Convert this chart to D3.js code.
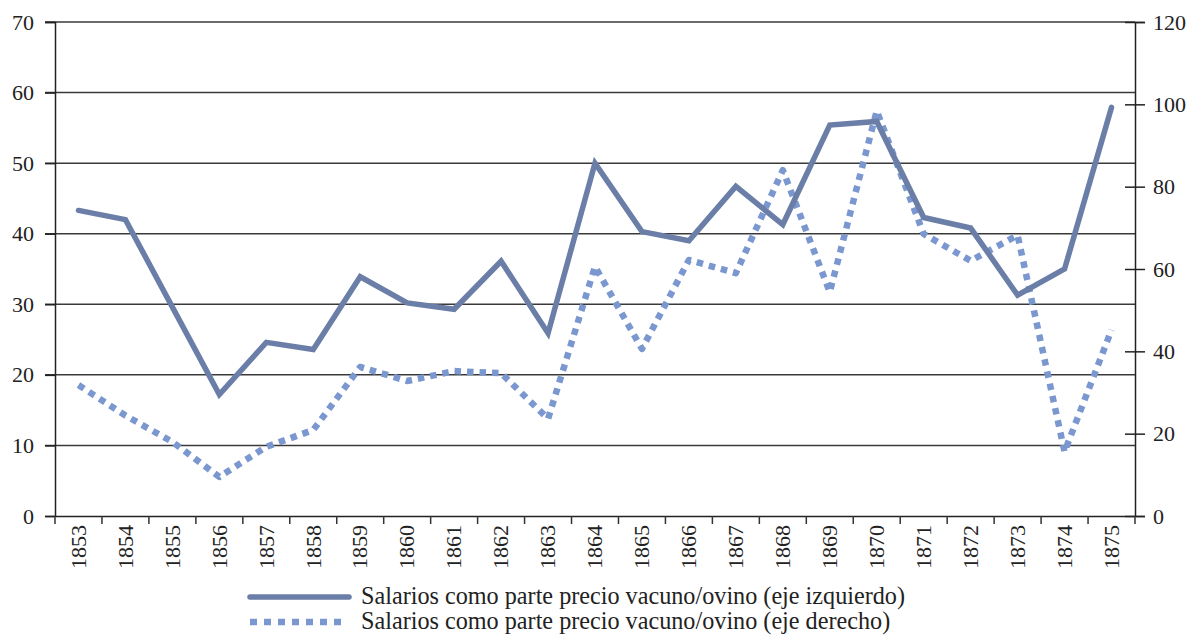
<!DOCTYPE html>
<html>
<head>
<meta charset="utf-8">
<script src="https://cdn.jsdelivr.net/npm/d3@7.9.0/dist/d3.min.js"></script>
<style>
  body { margin: 0; background: #fff; }
  svg text { font-family: "Liberation Serif", "Times New Roman", serif; fill: #222; }
</style>
</head>
<body>
<svg id="chart" width="1187" height="636"></svg>
<script>
// years on the x axis
const years = [1853, 1854, 1855, 1856, 1857, 1858, 1859, 1860, 1861, 1862, 1863, 1864,
  1865, 1866, 1867, 1868, 1869, 1870, 1871, 1872, 1873, 1874, 1875];

// salarios como parte precio vacuno/ovino (eje izquierdo)
const leftSeries = [43.3, 42.0, 29.6, 17.2, 24.6, 23.6, 33.9, 30.2, 29.3, 36.1, 25.9, 50.0,
  40.3, 39.0, 46.7, 41.3, 55.4, 55.9, 42.3, 40.8, 31.3, 35.0, 57.9];

// salarios como parte precio vacuno/ovino (eje derecho)
const rightSeries = [31.8, 24.4, 18.0, 9.5, 16.8, 20.9, 36.2, 32.8, 35.2, 34.7, 23.6, 60.6,
  40.6, 62.2, 59.0, 84.0, 54.4, 98.4, 68.5, 62.0, 68.2, 15.6, 45.2];

const leftTicks = [0, 10, 20, 30, 40, 50, 60, 70];
const rightTicks = [0, 20, 40, 60, 80, 100, 120];

const legendLabels = [
  "Salarios como parte precio vacuno/ovino (eje izquierdo)",
  "Salarios como parte precio vacuno/ovino (eje derecho)"
];

const solidColor = "#6a7ea7";
const dotColor = "#7b97cf";

const margin = { top: 22, right: 52, bottom: 120, left: 55 };
const width = 1187, height = 636;
const svg = d3.select("#chart");

const x = d3.scaleBand()
  .domain(years)
  .range([margin.left, width - margin.right]);

const yL = d3.scaleLinear().domain([0, 70]).range([height - margin.bottom, margin.top]);
const yR = d3.scaleLinear().domain([0, 120]).range([height - margin.bottom, margin.top]);

// horizontal gridlines from the left axis
svg.append("g")
  .selectAll("line")
  .data(leftTicks.filter(d => d > 0))
  .join("line")
  .attr("x1", margin.left - 10)
  .attr("x2", width - margin.right)
  .attr("y1", d => yL(d))
  .attr("y2", d => yL(d))
  .attr("stroke", "#3a3a3a")
  .attr("stroke-width", 1.5);

// left axis
const gL = svg.append("g")
  .attr("transform", `translate(${margin.left},0)`)
  .call(d3.axisLeft(yL).tickValues(leftTicks).tickSize(10).tickPadding(11));

// right axis
const gR = svg.append("g")
  .attr("transform", `translate(${width - margin.right},0)`)
  .call(d3.axisRight(yR).tickValues(rightTicks).tickSize(10).tickPadding(8));
gR.selectAll(".tick line").attr("x1", -10);

[gL, gR].forEach(g => g.attr("font-family", null).attr("font-size", null)
  .selectAll("text").style("font-size", "22px"));

// bottom axis, ticks sit between the categories
const gX = svg.append("g")
  .attr("transform", `translate(0,${height - margin.bottom})`)
  .call(d3.axisBottom(x).tickSize(0).tickPadding(0));
gX.attr("font-family", null).attr("font-size", null);
gX.selectAll(".tick text")
  .style("font-size", "22px")
  .attr("transform", "rotate(-90)")
  .attr("text-anchor", "end")
  .attr("dy", "0.33em")
  .attr("x", -9)
  .attr("y", 0);
gX.append("g")
  .selectAll("line")
  .data(years.concat([null]))
  .join("line")
  .attr("x1", (d, i) => margin.left + i * x.step())
  .attr("x2", (d, i) => margin.left + i * x.step())
  .attr("y1", 0)
  .attr("y2", 8)
  .attr("stroke", "#333")
  .attr("stroke-width", 1.5);

svg.selectAll(".domain").attr("stroke", "#222").attr("stroke-width", 1.5);
svg.selectAll(".tick line").attr("stroke", "#222").attr("stroke-width", 1.5);

const cx = d => x(d) + x.bandwidth() / 2;

// right-axis dotted series
svg.append("path")
  .datum(rightSeries)
  .attr("fill", "none")
  .attr("stroke", dotColor)
  .attr("stroke-width", 6.5)
  .attr("stroke-dasharray", "6.5,6")
  .attr("stroke-linejoin", "round")
  .attr("d", d3.line().x((d, i) => cx(years[i])).y(d => yR(d)));

// left-axis solid series
svg.append("path")
  .datum(leftSeries)
  .attr("fill", "none")
  .attr("stroke", solidColor)
  .attr("stroke-width", 5.5)
  .attr("stroke-linejoin", "miter")
  .attr("stroke-linecap", "round")
  .attr("d", d3.line().x((d, i) => cx(years[i])).y(d => yL(d)));

// legend
const legend = svg.append("g");
const legendRows = [
  { label: legendLabels[0], color: solidColor, dash: null, y: 597, w: 5.5 },
  { label: legendLabels[1], color: dotColor, dash: "7,7", y: 622, w: 6.5 }
];
legendRows.forEach(r => {
  legend.append("line")
    .attr("x1", 250).attr("x2", r.dash ? 348 : 349)
    .attr("y1", r.y).attr("y2", r.y)
    .attr("stroke", r.color)
    .attr("stroke-width", r.w)
    .attr("stroke-linecap", r.dash ? "butt" : "round")
    .attr("stroke-dasharray", r.dash);
  legend.append("text")
    .attr("x", 361)
    .attr("y", r.y + 7)
    .style("font-size", "24.2px")
    .text(r.label);
});
</script>
</body>
</html>
